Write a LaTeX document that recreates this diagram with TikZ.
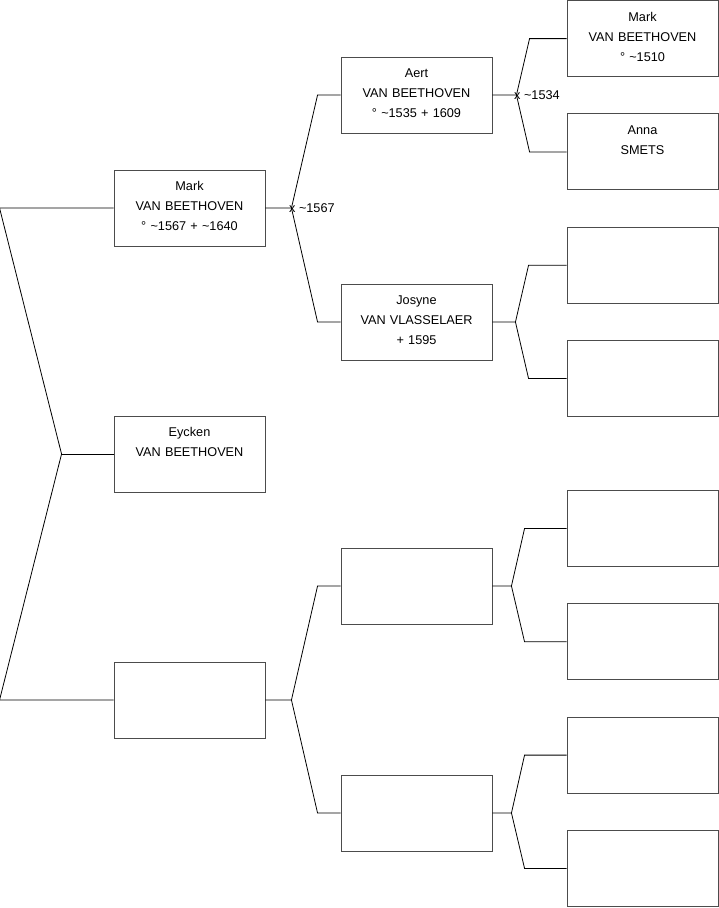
\documentclass[tikz,border=0pt]{standalone}
\usepackage{fontspec}
\setmainfont{Liberation Sans}
\usetikzlibrary{calc}
\tikzset{
  person/.style={rectangle, draw=black!70, line width=0.9pt, minimum width=151pt, minimum height=76pt, inner sep=0pt, align=center, text width=151pt, font=\fontsize{12.7}{20}\selectfont, execute at end node={\rule[-4pt]{0pt}{0pt}}},
  link/.style={draw=black, line width=0.8pt},
  marriage/.style={anchor=west, inner sep=0pt, font=\fontsize{12.7}{15}\selectfont},
}

\begin{document}
\begin{tikzpicture}
  \useasboundingbox (0,0) rectangle (719pt,-908pt);

  % first generation
  \node[person] (mark) at (189.5pt,-208pt) {Mark\\VAN BEETHOVEN\\° \textasciitilde1567 + \textasciitilde1640};
  \node[person, below of=mark, node distance=246pt] (eycken) {Eycken\\VAN BEETHOVEN\\\mbox{}};
  \node[person, below of=eycken, node distance=246pt] (gen1c) {};

  % second generation
  \node[person] (aert) at (416.5pt,-95pt) {Aert\\VAN BEETHOVEN\\° \textasciitilde1535 + 1609};
  \node[person, below of=aert, node distance=227pt] (josyne) {Josyne\\VAN VLASSELAER\\+ 1595};
  \node[person] (gen2c) at (416.5pt,-586pt) {};
  \node[person, below of=gen2c, node distance=227pt] (gen2d) {};

  % third generation
  \node[person] (g3a) at (642.5pt,-38.6pt) {Mark\\VAN BEETHOVEN\\° \textasciitilde1510};
  \node[person, below of=g3a, node distance=113.3pt] (g3b) {Anna\\SMETS\\\mbox{}};
  \node[person, below of=g3b, node distance=113.3pt] (g3c) {};
  \node[person, below of=g3c, node distance=113.3pt] (g3d) {};
  \node[person] (g3e) at (642.5pt,-528.5pt) {};
  \node[person, below of=g3e, node distance=113.3pt] (g3f) {};
  \node[person, below of=g3f, node distance=113.3pt] (g3g) {};
  \node[person, below of=g3g, node distance=113.3pt] (g3h) {};

  % left bracket
  \coordinate (root) at ($(eycken.west)+(-52pt,0)$);
  \coordinate (rtop) at ($(mark.west)+(-114pt,0)$);
  \coordinate (rbot) at ($(gen1c.west)+(-114pt,0)$);
  \draw[link] (mark.west) -- (rtop) -- (root) -- (rbot) -- (gen1c.west);
  \draw[link] (root) -- (eycken.west);

  % forks to the parents
  \foreach \p/\a/\b/\v/\k in {mark/aert/josyne/26/23, gen1c/gen2c/gen2d/26/23,
                              aert/g3a/g3b/24/37, josyne/g3c/g3d/23/38,
                              gen2c/g3e/g3f/19/42, gen2d/g3g/g3h/19/42} {
    \coordinate (v-\p) at ($(\p.east)+(\v pt,0)$);
    \draw[link] (\p.east) -- (v-\p) -- ($(\a.west)+(-\k pt,0)$) -- (\a.west);
    \draw[link] (v-\p) -- ($(\b.west)+(-\k pt,0)$) -- (\b.west);
  }

  % marriages
  \node[marriage] (wed1) at ($(v-mark)+(-2.5pt,0)$) {x \textasciitilde1567};
  \node[marriage] (wed2) at ($(v-aert)+(-2.5pt,0)$) {x \textasciitilde1534};
\end{tikzpicture}
\end{document}
